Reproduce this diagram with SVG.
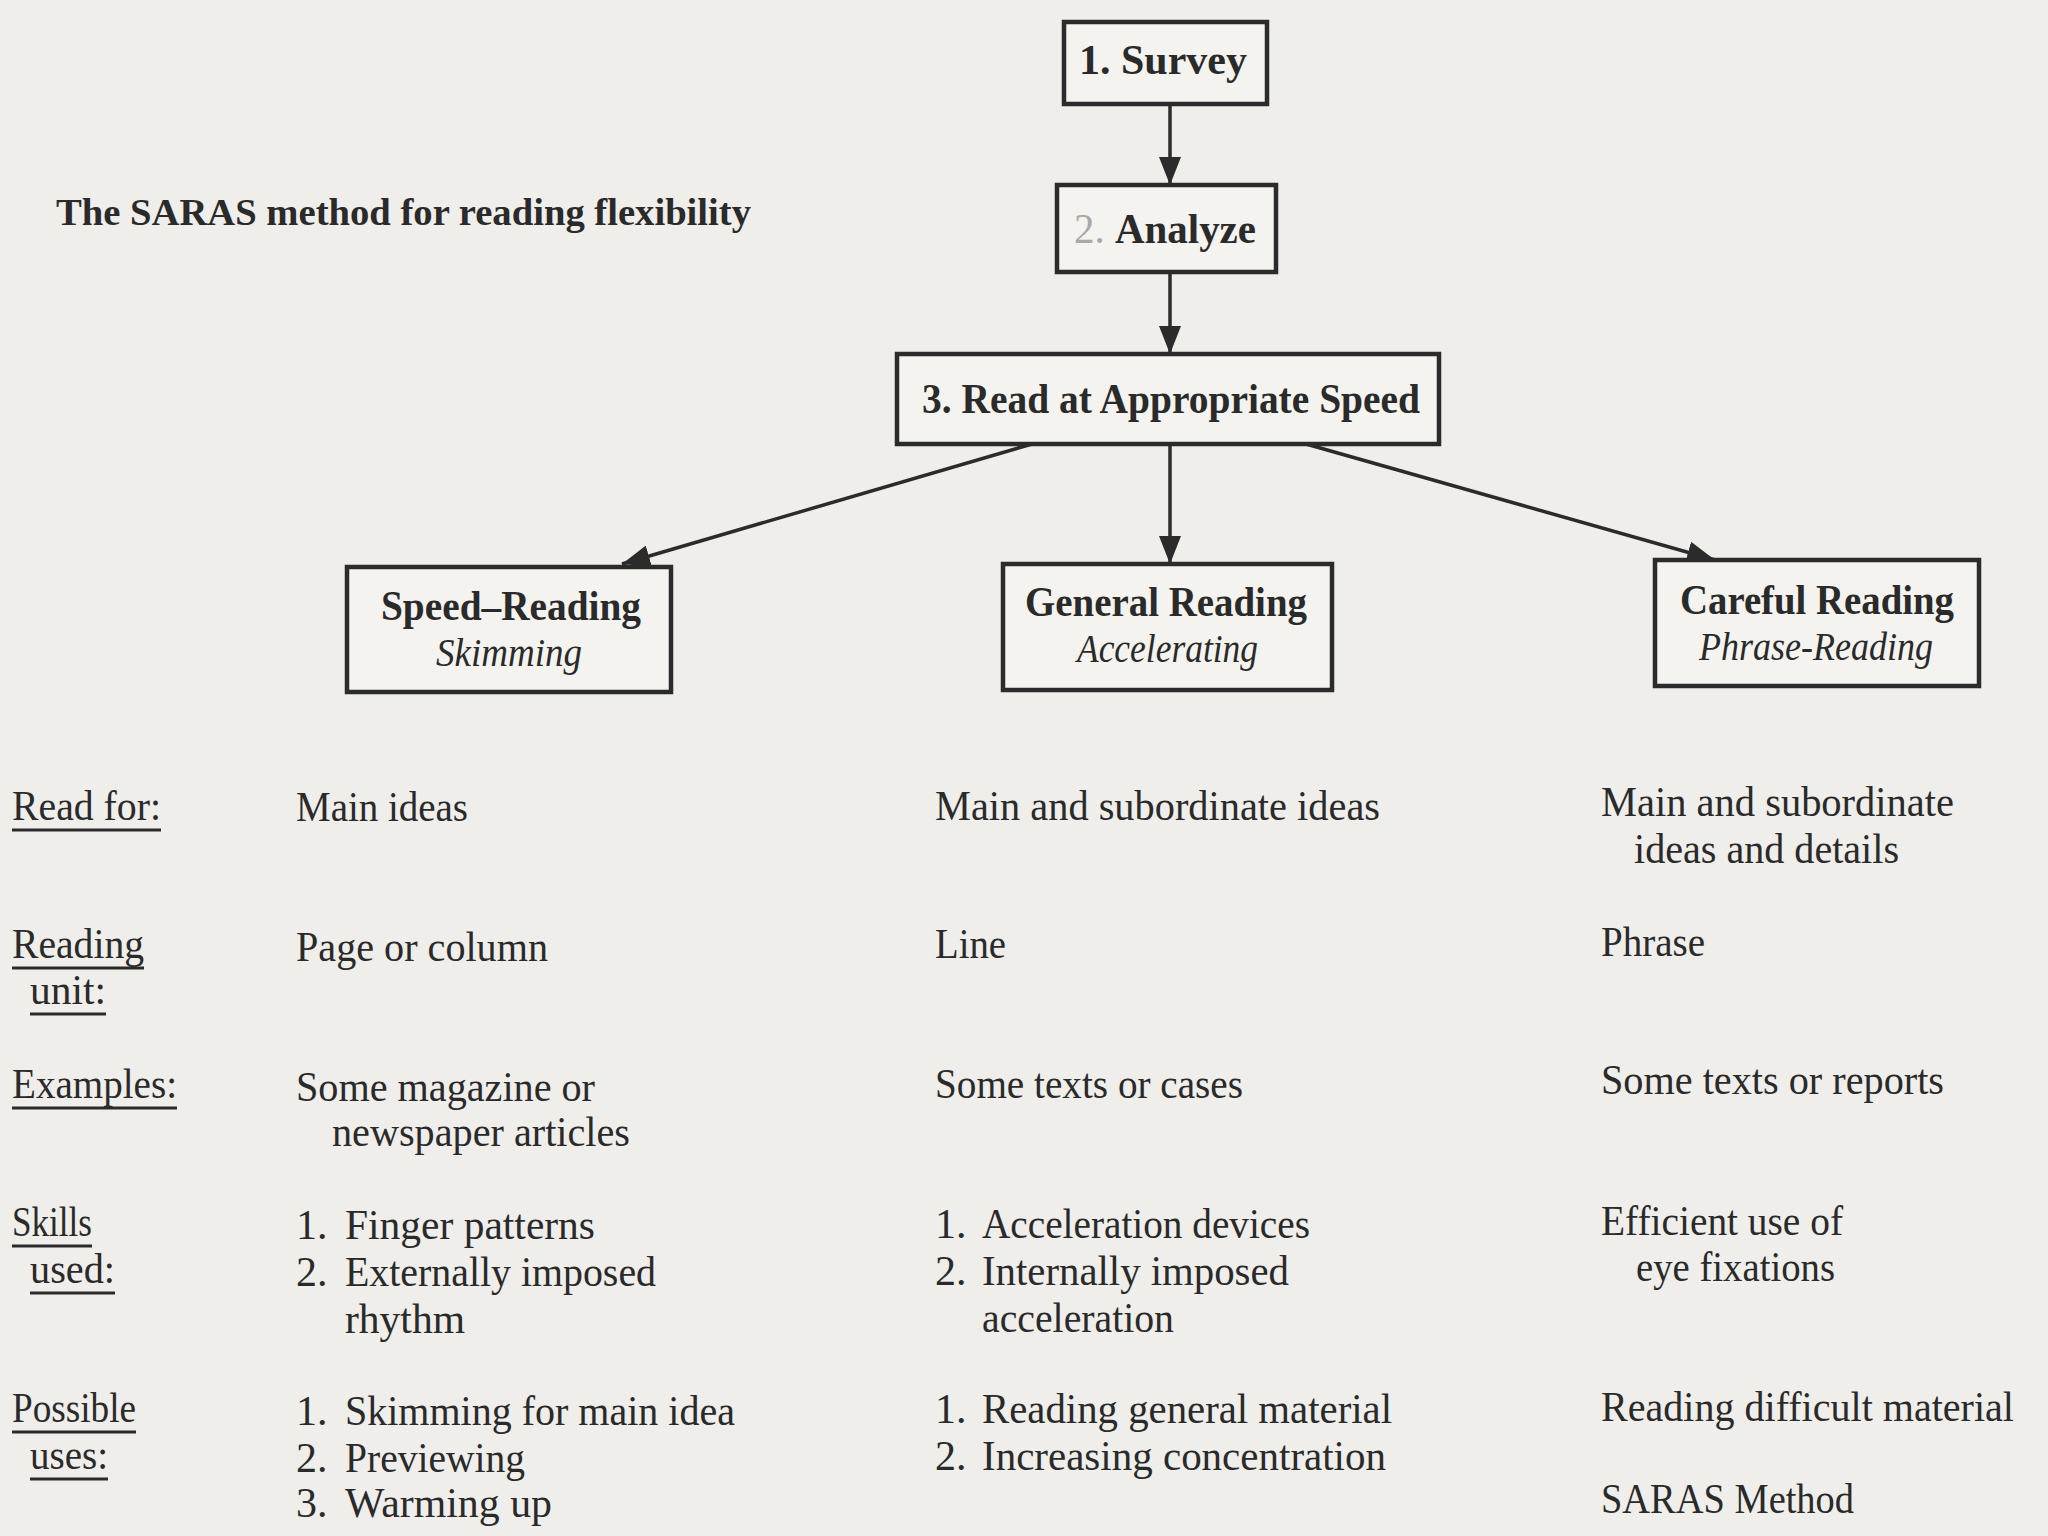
<svg xmlns="http://www.w3.org/2000/svg" width="2048" height="1536" viewBox="0 0 2048 1536">
<style>
.bg{fill:#efeeea}
.box{fill:#f4f3ef;stroke:#2b2b2b;stroke-width:4.5}
.bt{font-family:"Liberation Serif","DejaVu Serif",serif;font-weight:bold;font-size:42px;fill:#2a2a2a}
.it{font-family:"Liberation Serif","DejaVu Serif",serif;font-style:italic;font-size:40px;fill:#2a2a2a}
.t{font-family:"Liberation Serif","DejaVu Serif",serif;font-size:42px;fill:#2a2a2a}
.title{font-family:"Liberation Serif","DejaVu Serif",serif;font-weight:bold;font-size:38px;fill:#2a2a2a}
.ul{stroke:#2a2a2a;stroke-width:3}
.con{stroke:#2b2b2b;stroke-width:3.5;fill:none}
</style>
<defs>
<marker id="ah" markerWidth="28" markerHeight="22" refX="28" refY="11" orient="auto" markerUnits="userSpaceOnUse">
<path d="M0,0 L28,11 L0,22 z" fill="#2b2b2b"/>
</marker>
</defs>
<rect class="bg" x="0" y="0" width="2048" height="1536"/>

<text class="title" x="56" y="225" textLength="695" lengthAdjust="spacingAndGlyphs">The SARAS method for reading flexibility</text>

<g id="connectors">
<line class="con" x1="1170" y1="104" x2="1170" y2="185" marker-end="url(#ah)"/>
<line class="con" x1="1170" y1="272" x2="1170" y2="354" marker-end="url(#ah)"/>
<line class="con" x1="1032" y1="444" x2="622" y2="564" marker-end="url(#ah)"/>
<line class="con" x1="1170" y1="444" x2="1170" y2="564" marker-end="url(#ah)"/>
<line class="con" x1="1306" y1="444" x2="1715" y2="560" marker-end="url(#ah)"/>
</g>

<g id="survey">
<rect class="box" x="1064" y="22" width="203" height="82"/>
<text class="bt" x="1079" y="74" textLength="168" lengthAdjust="spacingAndGlyphs">1. Survey</text>
</g>
<g id="analyze">
<rect class="box" x="1057" y="185" width="219" height="87"/>
<text class="bt" x="1074" y="243" textLength="182" lengthAdjust="spacingAndGlyphs"><tspan fill="#a8a8a8" font-weight="normal">2. </tspan>Analyze</text>
</g>
<g id="read-speed">
<rect class="box" x="897" y="354" width="542" height="90"/>
<text class="bt" x="922" y="413" textLength="498" lengthAdjust="spacingAndGlyphs">3. Read at Appropriate Speed</text>
</g>
<g id="speed-reading">
<rect class="box" x="347" y="567" width="324" height="125"/>
<text class="bt" x="381" y="620" textLength="260" lengthAdjust="spacingAndGlyphs">Speed–Reading</text>
<text class="it" x="436" y="666" textLength="146" lengthAdjust="spacingAndGlyphs">Skimming</text>
</g>
<g id="general-reading">
<rect class="box" x="1003" y="564" width="329" height="126"/>
<text class="bt" x="1025" y="616" textLength="282" lengthAdjust="spacingAndGlyphs">General Reading</text>
<text class="it" x="1077" y="662" textLength="181" lengthAdjust="spacingAndGlyphs">Accelerating</text>
</g>
<g id="careful-reading">
<rect class="box" x="1655" y="560" width="324" height="126"/>
<text class="bt" x="1680" y="614" textLength="274" lengthAdjust="spacingAndGlyphs">Careful Reading</text>
<text class="it" x="1699" y="660" textLength="234" lengthAdjust="spacingAndGlyphs">Phrase-Reading</text>
</g>

<g id="row-labels">
<text class="t" x="12" y="820" textLength="149" lengthAdjust="spacingAndGlyphs">Read for:</text>
<line class="ul" x1="12" y1="830" x2="161" y2="830"/>
<text class="t" x="12" y="958" textLength="132" lengthAdjust="spacingAndGlyphs">Reading</text>
<line class="ul" x1="12" y1="968" x2="144" y2="968"/>
<text class="t" x="30" y="1004" textLength="76" lengthAdjust="spacingAndGlyphs">unit:</text>
<line class="ul" x1="30" y1="1014" x2="106" y2="1014"/>
<text class="t" x="12" y="1098" textLength="165" lengthAdjust="spacingAndGlyphs">Examples:</text>
<line class="ul" x1="12" y1="1108" x2="177" y2="1108"/>
<text class="t" x="12" y="1236" textLength="80" lengthAdjust="spacingAndGlyphs">Skills</text>
<line class="ul" x1="12" y1="1246" x2="92" y2="1246"/>
<text class="t" x="30" y="1283" textLength="85" lengthAdjust="spacingAndGlyphs">used:</text>
<line class="ul" x1="30" y1="1293" x2="115" y2="1293"/>
<text class="t" x="12" y="1422" textLength="124" lengthAdjust="spacingAndGlyphs">Possible</text>
<line class="ul" x1="12" y1="1432" x2="136" y2="1432"/>
<text class="t" x="30" y="1469" textLength="78" lengthAdjust="spacingAndGlyphs">uses:</text>
<line class="ul" x1="30" y1="1479" x2="108" y2="1479"/>
</g>

<g id="col-speed">
<text class="t" x="296" y="821" textLength="172" lengthAdjust="spacingAndGlyphs">Main ideas</text>
<text class="t" x="296" y="961" textLength="252" lengthAdjust="spacingAndGlyphs">Page or column</text>
<text class="t" x="296" y="1101" textLength="299" lengthAdjust="spacingAndGlyphs">Some magazine or</text>
<text class="t" x="332" y="1146" textLength="298" lengthAdjust="spacingAndGlyphs">newspaper articles</text>
<text class="t" x="296" y="1239">1.</text><text class="t" x="345" y="1239" textLength="250" lengthAdjust="spacingAndGlyphs">Finger patterns</text>
<text class="t" x="296" y="1286">2.</text><text class="t" x="345" y="1286" textLength="311" lengthAdjust="spacingAndGlyphs">Externally imposed</text>
<text class="t" x="345" y="1333" textLength="120" lengthAdjust="spacingAndGlyphs">rhythm</text>
<text class="t" x="296" y="1425">1.</text><text class="t" x="345" y="1425" textLength="390" lengthAdjust="spacingAndGlyphs">Skimming for main idea</text>
<text class="t" x="296" y="1472">2.</text><text class="t" x="345" y="1472" textLength="180" lengthAdjust="spacingAndGlyphs">Previewing</text>
<text class="t" x="296" y="1517">3.</text><text class="t" x="345" y="1517" textLength="207" lengthAdjust="spacingAndGlyphs">Warming up</text>
</g>

<g id="col-general">
<text class="t" x="935" y="820" textLength="445" lengthAdjust="spacingAndGlyphs">Main and subordinate ideas</text>
<text class="t" x="935" y="958" textLength="71" lengthAdjust="spacingAndGlyphs">Line</text>
<text class="t" x="935" y="1098" textLength="308" lengthAdjust="spacingAndGlyphs">Some texts or cases</text>
<text class="t" x="935" y="1238">1.</text><text class="t" x="982" y="1238" textLength="328" lengthAdjust="spacingAndGlyphs">Acceleration devices</text>
<text class="t" x="935" y="1285">2.</text><text class="t" x="982" y="1285" textLength="307" lengthAdjust="spacingAndGlyphs">Internally imposed</text>
<text class="t" x="982" y="1332" textLength="192" lengthAdjust="spacingAndGlyphs">acceleration</text>
<text class="t" x="935" y="1423">1.</text><text class="t" x="982" y="1423" textLength="410" lengthAdjust="spacingAndGlyphs">Reading general material</text>
<text class="t" x="935" y="1470">2.</text><text class="t" x="982" y="1470" textLength="404" lengthAdjust="spacingAndGlyphs">Increasing concentration</text>
</g>

<g id="col-careful">
<text class="t" x="1601" y="816" textLength="353" lengthAdjust="spacingAndGlyphs">Main and subordinate</text>
<text class="t" x="1634" y="863" textLength="265" lengthAdjust="spacingAndGlyphs">ideas and details</text>
<text class="t" x="1601" y="956" textLength="104" lengthAdjust="spacingAndGlyphs">Phrase</text>
<text class="t" x="1601" y="1094" textLength="343" lengthAdjust="spacingAndGlyphs">Some texts or reports</text>
<text class="t" x="1601" y="1235" textLength="242" lengthAdjust="spacingAndGlyphs">Efficient use of</text>
<text class="t" x="1636" y="1281" textLength="199" lengthAdjust="spacingAndGlyphs">eye fixations</text>
<text class="t" x="1601" y="1421" textLength="413" lengthAdjust="spacingAndGlyphs">Reading difficult material</text>
<text class="t" x="1601" y="1513" textLength="253" lengthAdjust="spacingAndGlyphs">SARAS Method</text>
</g>
</svg>
